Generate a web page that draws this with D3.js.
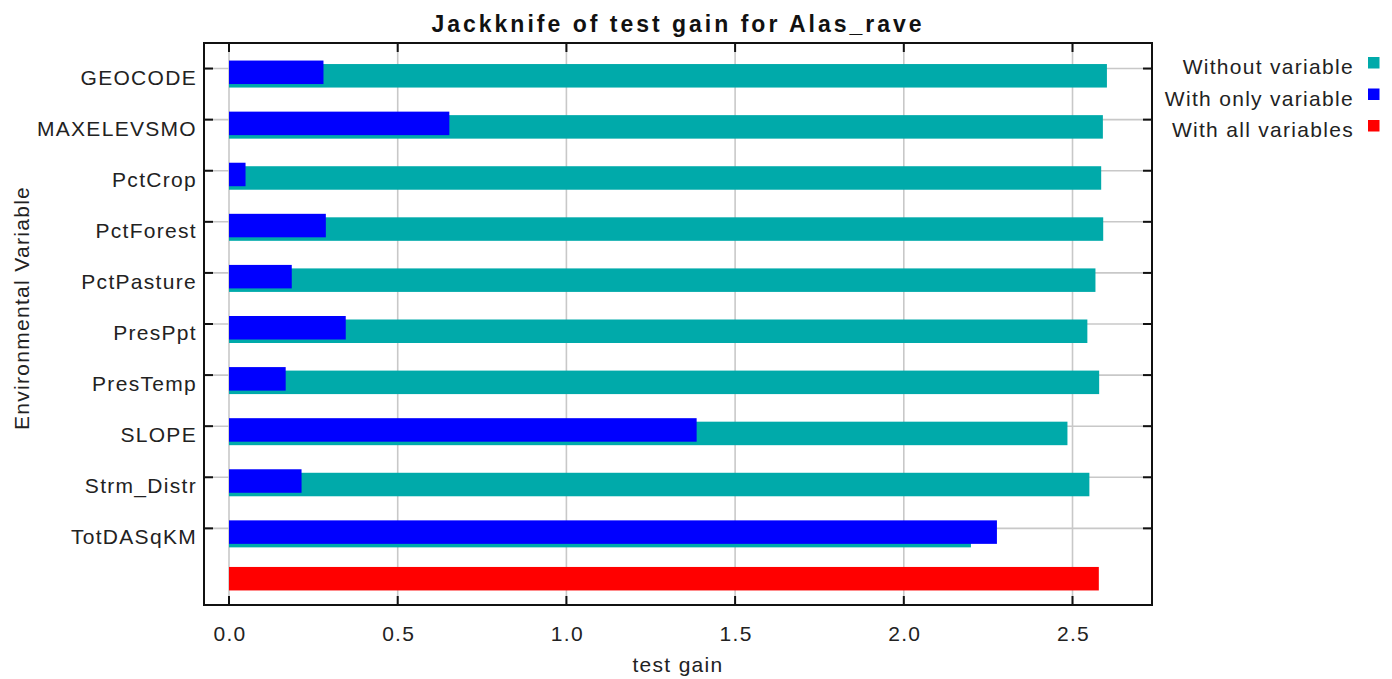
<!DOCTYPE html>
<html>
<head>
<meta charset="utf-8">
<script src="https://cdn.jsdelivr.net/npm/d3@7"></script>
<style>
  body { margin: 0; background: #fff; }
  text { font-family: "Liberation Sans", Arial, sans-serif; fill: #222; }
</style>
</head>
<body>
<div id="chart"></div>
<script>
// data
var variables = ["GEOCODE", "MAXELEVSMO", "PctCrop", "PctForest", "PctPasture",
    "PresPpt", "PresTemp", "SLOPE", "Strm_Distr", "TotDASqKM"];
var withoutVar = [2.602, 2.590, 2.585, 2.591, 2.568, 2.544, 2.579, 2.485, 2.550, 2.199];
var withOnlyVar = [0.280, 0.653, 0.049, 0.287, 0.186, 0.346, 0.168, 1.386, 0.215, 2.276];
var withAllVars = [2.578];
var xTicks = [0, 0.5, 1.0, 1.5, 2.0, 2.5];
var legendLabels = ["Without variable", "With only variable", "With all variables"];
var legendColors = ["#00aaaa", "#0000ff", "#ff0000"];

var width = 1392;
var height = 679;
var plotLeft = 204, plotTop = 43, plotRight = 1152, plotBottom = 605;

var svg = d3.select("#chart").append("svg")
    .attr("width", width)
    .attr("height", height);

var x = d3.scaleLinear()
    .domain([-0.0741, 2.7356])
    .range([plotLeft, plotRight]);

// one extra blank row at the bottom for the "all variables" bar
var rows = variables.concat([""]);
var y = d3.scaleBand()
    .domain(rows)
    .range([plotTop, plotBottom])
    .padding(0);

var mid = function (d) { return y(d) + y.bandwidth() / 2; };

/*****************  Grid **********************/

svg.append("g").selectAll("line")
    .data(xTicks)
    .enter()
    .append("line")
    .attr("x1", function (d) { return x(d); })
    .attr("x2", function (d) { return x(d); })
    .attr("y1", plotTop)
    .attr("y2", plotBottom)
    .style("stroke", "#c8c8c8")
    .style("stroke-width", 1.6);

svg.append("g").selectAll("line")
    .data(variables)
    .enter()
    .append("line")
    .attr("x1", plotLeft)
    .attr("x2", plotRight)
    .attr("y1", function (d) { return mid(d); })
    .attr("y2", function (d) { return mid(d); })
    .style("stroke", "#c8c8c8")
    .style("stroke-width", 1.6);

/*****************  Bars **********************/

svg.append("g").selectAll("rect")
    .data(withoutVar)
    .enter()
    .append("rect")
    .attr("x", x(0))
    .attr("y", function (d, i) { return mid(variables[i]) - 4.5; })
    .attr("width", function (d) { return x(d) - x(0); })
    .attr("height", 23.5)
    .style("fill", legendColors[0]);

svg.append("g").selectAll("rect")
    .data(withOnlyVar)
    .enter()
    .append("rect")
    .attr("x", x(0))
    .attr("y", function (d, i) { return mid(variables[i]) - 8; })
    .attr("width", function (d) { return x(d) - x(0); })
    .attr("height", 23.5)
    .style("fill", legendColors[1]);

svg.append("g").selectAll("rect")
    .data(withAllVars)
    .enter()
    .append("rect")
    .attr("x", x(0))
    .attr("y", mid("") - 12.5)
    .attr("width", function (d) { return x(d) - x(0); })
    .attr("height", 23.5)
    .style("fill", legendColors[2]);

/*****************  Frame & ticks **********************/

svg.append("rect")
    .attr("x", plotLeft)
    .attr("y", plotTop)
    .attr("width", plotRight - plotLeft)
    .attr("height", plotBottom - plotTop)
    .style("fill", "none")
    .style("stroke", "#111")
    .style("stroke-width", 2);

var tickLen = 9;
var ticks = svg.append("g").style("stroke", "#111").style("stroke-width", 2);
xTicks.forEach(function (t) {
    ticks.append("line").attr("x1", x(t)).attr("x2", x(t)).attr("y1", plotTop).attr("y2", plotTop + tickLen);
    ticks.append("line").attr("x1", x(t)).attr("x2", x(t)).attr("y1", plotBottom).attr("y2", plotBottom - tickLen);
});
variables.forEach(function (v) {
    ticks.append("line").attr("x1", plotLeft).attr("x2", plotLeft + tickLen).attr("y1", mid(v)).attr("y2", mid(v));
    ticks.append("line").attr("x1", plotRight).attr("x2", plotRight - tickLen).attr("y1", mid(v)).attr("y2", mid(v));
});

/*****************  Labels **********************/

svg.append("g").selectAll("text")
    .data(xTicks)
    .enter()
    .append("text")
    .attr("x", function (d) { return x(d) + 1; })
    .attr("y", 641)
    .attr("text-anchor", "middle")
    .style("font-size", "21px")
    .style("letter-spacing", "1.3px")
    .text(function (d) { return d3.format(".1f")(d); });

svg.append("g").selectAll("text")
    .data(variables)
    .enter()
    .append("text")
    .attr("x", 197)
    .attr("y", function (d) { return mid(d) + 16; })
    .attr("text-anchor", "end")
    .style("font-size", "21px")
    .style("letter-spacing", "1.3px")
    .text(function (d) { return d; });

svg.append("text")
    .attr("x", (plotLeft + plotRight) / 2)
    .attr("y", 672)
    .attr("text-anchor", "middle")
    .style("font-size", "21px")
    .style("letter-spacing", "1.3px")
    .text("test gain");

svg.append("text")
    .attr("transform", "translate(29,308) rotate(-90)")
    .attr("text-anchor", "middle")
    .style("font-size", "21px")
    .style("letter-spacing", "1.3px")
    .text("Environmental Variable");

svg.append("text")
    .attr("x", (plotLeft + plotRight) / 2)
    .attr("y", 32)
    .attr("text-anchor", "middle")
    .style("font-size", "23px")
    .style("font-weight", "bold")
    .style("letter-spacing", "3px")
    .style("fill", "#111")
    .text("Jackknife of test gain for Alas_rave");

/*****************  Legend **********************/

var legend = svg.append("g").selectAll("g")
    .data(legendLabels)
    .enter()
    .append("g")
    .attr("transform", function (d, i) { return "translate(0," + (i * 31.5) + ")"; });

legend.append("text")
    .attr("x", 1354)
    .attr("y", 74)
    .attr("text-anchor", "end")
    .style("font-size", "21px")
    .style("letter-spacing", "1.3px")
    .text(function (d) { return d; });

legend.append("rect")
    .attr("x", 1368)
    .attr("y", 57)
    .attr("width", 11.5)
    .attr("height", 11.5)
    .style("fill", function (d, i) { return legendColors[i]; });
</script>
</body>
</html>
